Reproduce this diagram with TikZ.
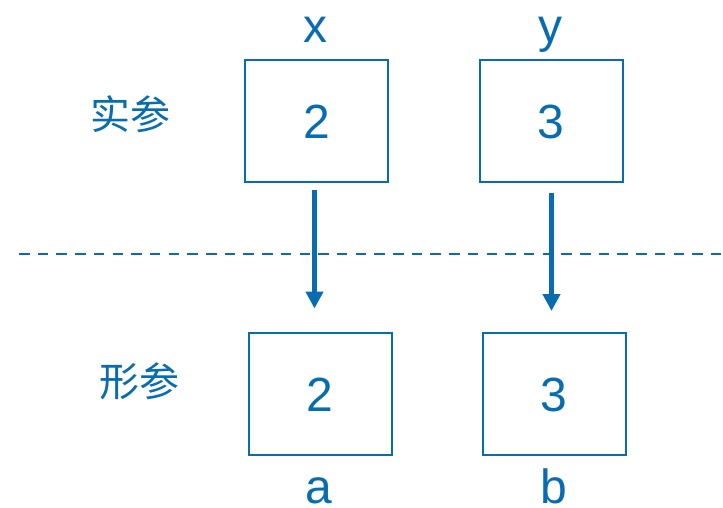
\documentclass[tikz,border=0pt]{standalone}
\usepackage{fontspec}
\setmainfont{Liberation Sans}
\newfontfamily\cjk{Noto Sans CJK SC}
\usetikzlibrary{arrows.meta}
\definecolor{mainblue}{RGB}{8,108,176}
\tikzset{
  valbox/.style={draw=mainblue, line width=2pt, minimum width=143pt, minimum height=122pt, inner sep=0pt},
  lat/.style={text=mainblue, font=\fontsize{48}{50}\selectfont, inner sep=0pt, anchor=base},
  cjklabel/.style={text=mainblue, font=\cjk\fontsize{40}{42}\selectfont, inner sep=0pt},
  passarrow/.style={draw=mainblue, line width=5pt, -{Triangle[width=17pt,length=17pt]}},
  divider/.style={draw=mainblue, line width=2pt, dash pattern=on 10.5pt off 8.2pt}
}
\begin{document}
\begin{tikzpicture}[x=1pt,y=-1pt]
\useasboundingbox (0,0) rectangle (723,507);
% boxes
\node[valbox] (bx) at (316.5,120.5) {};
\node[valbox] (by) at (551,120.5) {};
\node[valbox] (ba) at (320.3,393.8) {};
\node[valbox] (bb) at (554.3,393.8) {};
% values
\node[lat] (vx) at (316.5,138.5) {2};
\node[lat] (vy) at (551,138.5) {3};
\node[lat] (va) at (320.3,411.5) {2};
\node[lat] (vb) at (554.3,411.5) {3};
% names
\node[lat] (nx) at (315.5,42) {x};
\node[lat] (ny) at (550,42) {y};
\node[lat] (na) at (319,503) {a};
\node[lat] (nb) at (554,503) {b};
% side labels
\node[cjklabel] (real) at (130,114) {实参};
\node[cjklabel] (formal) at (139,381) {形参};
% divider
\coordinate (dl) at (19,254);
\coordinate (dr) at (723,254);
\draw[divider] (dl) -- (dr);
% arrows
\coordinate (a1s) at (314.5,190);
\coordinate (a1e) at (314.5,308.5);
\coordinate (a2s) at (551.5,192.5);
\coordinate (a2e) at (551.5,311);
\draw[passarrow] (a1s) -- (a1e);
\draw[passarrow] (a2s) -- (a2e);
\end{tikzpicture}
\end{document}
